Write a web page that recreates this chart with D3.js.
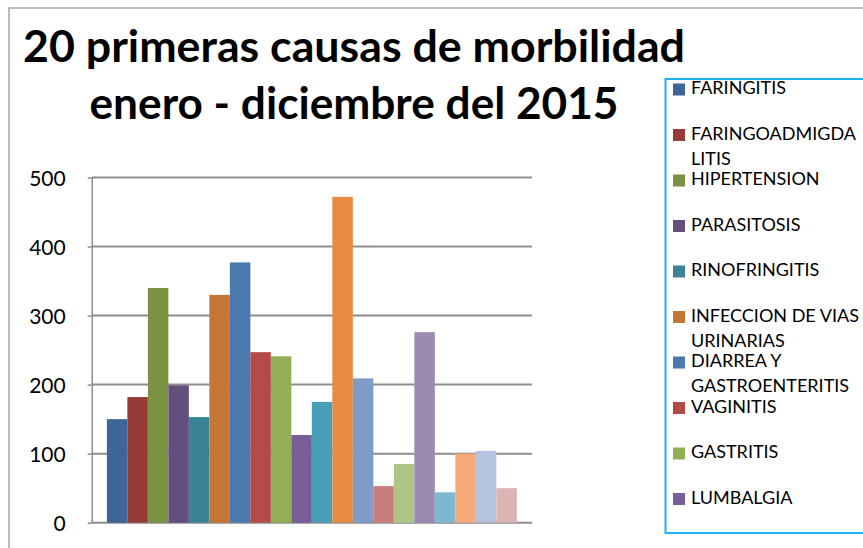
<!DOCTYPE html>
<html>
<head>
<meta charset="utf-8">
<script src="https://cdn.jsdelivr.net/npm/d3@7"></script>
<style>
  html, body { margin: 0; padding: 0; background: #fff; }
  svg { display: block; }
  text { font-family: Lato, "Open Sans", sans-serif; fill: #000; }
</style>
</head>
<body>
<svg id="chart" width="863" height="548"></svg>
<script>
// title lines
const titleLines = ["20 primeras causas de morbilidad", "enero - diciembre del 2015"];

// one bar per cause, left to right (only the first ten appear in the legend)
const values = [150, 182, 340, 199, 153, 330, 377, 247, 241, 127,
                175, 472, 209, 53, 85, 276, 44, 100, 104, 50];

const barColors = [
  "#3d6596", "#953b39", "#7b9242", "#634e7e", "#3a8496", "#c47637",
  "#4a79b0", "#b34b49", "#93af55", "#775e99", "#48a0b8", "#e88c41",
  "#7f9bc7", "#c97d7c", "#aec585", "#9d8ab2", "#7db8cf", "#f7ab79",
  "#b5c4de", "#ddb4b4"
];

// legend entries as wrapped in the original legend box
const legendNames = [
  ["FARINGITIS"],
  ["FARINGOADMIGDA", "LITIS"],
  ["HIPERTENSION"],
  ["PARASITOSIS"],
  ["RINOFRINGITIS"],
  ["INFECCION DE VIAS", "URINARIAS"],
  ["DIARREA Y", "GASTROENTERITIS"],
  ["VAGINITIS"],
  ["GASTRITIS"],
  ["LUMBALGIA"]
];

const yTicks = [0, 100, 200, 300, 400, 500];

const svg = d3.select("#chart");

// outer frame of the chart object (runs past the right/bottom edge)
svg.append("path")
  .attr("d", "M9,560 L9,8 L880,8")
  .attr("fill", "none")
  .attr("stroke", "#a6a6a6")
  .attr("stroke-width", 1.5);

// title
svg.selectAll(".title")
  .data(titleLines)
  .enter()
  .append("text")
  .attr("class", "title")
  .attr("x", 354)
  .attr("y", (d, i) => 62 + i * 57)
  .attr("text-anchor", "middle")
  .attr("font-size", 43)
  .attr("font-weight", 700)
  .attr("textLength", (d, i) => (i === 0 ? 662 : 529))
  .attr("lengthAdjust", "spacingAndGlyphs")
  .text((d) => d);

// plot area
const plotLeft = 91.7, plotRight = 532, plotTop = 177.5, plotBottom = 522.7;

const y = d3.scaleLinear().domain([0, 500]).range([plotBottom, plotTop]);
const x = d3.scaleBand()
  .domain(d3.range(values.length))
  .range([plotLeft, plotRight])
  .paddingInner(0)
  .paddingOuter(0.74);

// gridlines
svg.append("g")
  .selectAll("line")
  .data(yTicks)
  .enter()
  .append("line")
  .attr("x1", plotLeft)
  .attr("x2", plotRight)
  .attr("y1", (d) => y(d))
  .attr("y2", (d) => y(d))
  .attr("stroke", "#8e8e8e")
  .attr("stroke-width", 2);

// bars
svg.append("g")
  .selectAll("rect")
  .data(values)
  .enter()
  .append("rect")
  .attr("x", (d, i) => x(i))
  .attr("width", x.bandwidth())
  .attr("y", (d) => y(d))
  .attr("height", (d) => plotBottom - y(d))
  .attr("fill", (d, i) => barColors[i]);

// y axis
const yAxis = svg.append("g")
  .attr("transform", `translate(${plotLeft},0)`)
  .call(d3.axisLeft(y).tickValues(yTicks).tickSize(4).tickSizeOuter(0).tickPadding(22));

yAxis.select(".domain").attr("stroke", "#8e8e8e").attr("stroke-width", 1.5);
yAxis.selectAll(".tick line").attr("stroke", "#8e8e8e").attr("stroke-width", 1.5);
yAxis.selectAll(".tick text")
  .attr("font-family", "Lato, sans-serif")
  .attr("font-size", 21)
  .attr("fill", "#000")
  .attr("dy", "0.36em");

// legend
const legend = svg.append("g");

legend.append("rect")
  .attr("x", 665.5)
  .attr("y", 79)
  .attr("width", 240)
  .attr("height", 454)
  .attr("fill", "#fff")
  .attr("stroke", "#1eb1ec")
  .attr("stroke-width", 2);

const item = legend.selectAll(".item")
  .data(legendNames)
  .enter()
  .append("g")
  .attr("class", "item")
  .attr("transform", (d, i) => `translate(673,${88 + i * 45.5})`);

item.append("rect")
  .attr("x", 0)
  .attr("y", -4.5)
  .attr("width", 12)
  .attr("height", 12)
  .attr("fill", (d, i) => barColors[i]);

item.selectAll("text")
  .data((d) => d)
  .enter()
  .append("text")
  .attr("x", 18)
  .attr("y", (d, j) => j * 25)
  .attr("dy", "0.36em")
  .attr("font-size", 18)
  .text((d) => d);
</script>
</body>
</html>
